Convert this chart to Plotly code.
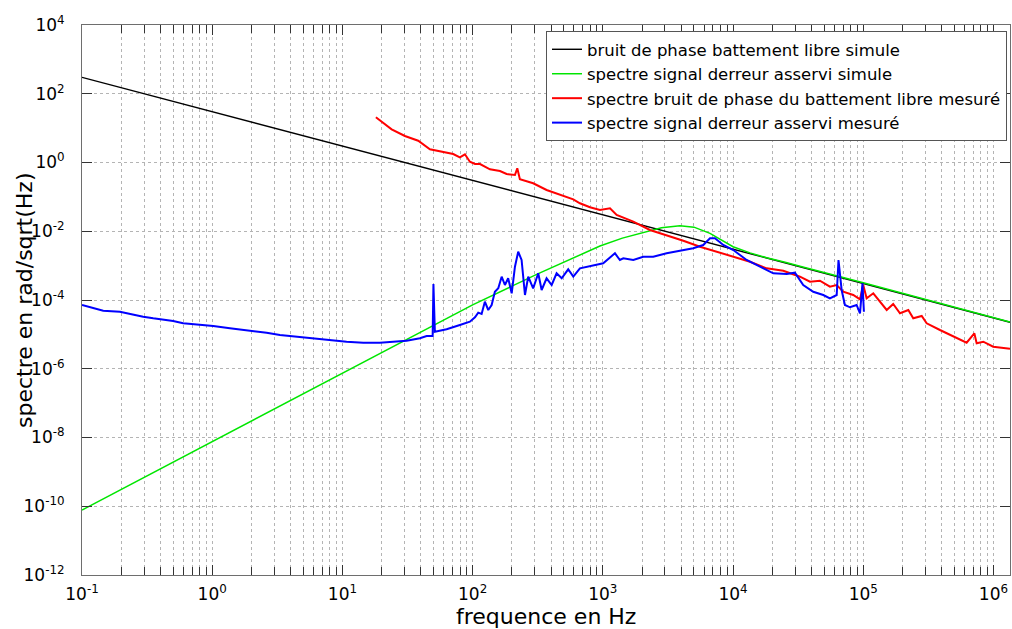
import plotly.graph_objects as go

# ---------------- data (log10 values) ----------------
# simulated free-running beat phase noise (black)
black_logf = [-1.0, 6.127]
black_logy = [2.478, -4.649]

# simulated locked error-signal spectrum (green)
green_logf = [-1.0, 0.0, 1.0, 1.5, 2.0, 2.5, 2.978, 3.15, 3.31, 3.45, 3.592, 3.7,
              3.823, 3.91, 4.0, 4.13, 4.258, 4.4, 4.514, 5.0, 5.5, 6.127]
green_logy = [-10.11, -8.12, -6.12, -5.12, -4.14, -3.24, -2.43, -2.2, -2.03, -1.90, -1.84, -1.88,
              -2.06, -2.25, -2.45, -2.63, -2.77, -2.90, -3.02, -3.50, -4.0, -4.64]

# measured free-running beat phase noise (red)
red_logf = [1.257, 1.378, 1.480, 1.582, 1.672, 1.724, 1.787, 1.851, 1.902, 1.941, 1.979, 2.018,
            2.057, 2.133, 2.210, 2.261, 2.325, 2.343, 2.363, 2.465, 2.568, 2.671, 2.773, 2.824,
            2.901, 2.978, 3.055, 3.106, 3.234, 3.362, 3.490, 3.618, 3.746, 3.874, 4.002, 4.130,
            4.258, 4.386, 4.514, 4.591, 4.667, 4.744, 4.796, 4.846, 4.923, 4.975, 5.000, 5.026,
            5.077, 5.128, 5.180, 5.230, 5.282, 5.346, 5.384, 5.449, 5.487, 5.589, 5.691, 5.794,
            5.853, 5.871, 5.922, 5.998, 6.127]
red_logy = [1.315, 0.966, 0.771, 0.634, 0.384, 0.343, 0.285, 0.247, 0.151, 0.239, 0.023, -0.044,
            -0.044, -0.198, -0.247, -0.335, -0.364, -0.169, -0.489, -0.605, -0.800, -0.945, -1.071, -1.187,
            -1.303, -1.382, -1.332, -1.527, -1.722, -1.964, -2.109, -2.275, -2.449, -2.595, -2.720, -2.886,
            -3.078, -3.148, -3.322, -3.468, -3.439, -3.613, -3.564, -3.759, -3.855, -3.980, -3.564, -3.951,
            -3.805, -4.049, -4.291, -4.116, -4.387, -4.291, -4.533, -4.465, -4.678, -4.873, -5.068, -5.242,
            -4.969, -5.260, -5.213, -5.359, -5.420]

# measured locked error-signal spectrum (blue)
blue_logf = [-1.0, -0.914, -0.837, -0.709, -0.632, -0.530, -0.453, -0.376, -0.300, -0.223, -0.146,
             -0.069, 0.008, 0.136, 0.264, 0.418, 0.520, 0.648, 0.776, 0.904, 1.032, 1.160, 1.288,
             1.390, 1.493, 1.595, 1.647, 1.693, 1.699, 1.710, 1.800, 1.902, 1.979, 2.018, 2.043,
             2.069, 2.094, 2.120, 2.146, 2.171, 2.197, 2.223, 2.248, 2.273, 2.300, 2.325, 2.350,
             2.376, 2.402, 2.427, 2.465, 2.504, 2.530, 2.568, 2.607, 2.645, 2.684, 2.734, 2.773,
             2.824, 2.876, 2.926, 3.003, 3.093, 3.131, 3.157, 3.234, 3.310, 3.387, 3.490, 3.618,
             3.694, 3.771, 3.823, 3.861, 3.925, 4.002, 4.104, 4.207, 4.309, 4.412, 4.475, 4.539,
             4.616, 4.693, 4.744, 4.796, 4.810, 4.834, 4.859, 4.898, 4.949, 4.975, 4.994, 5.005]
blue_logy = [-4.145, -4.242, -4.311, -4.340, -4.407, -4.486, -4.533, -4.562, -4.611, -4.678, -4.698,
             -4.727, -4.756, -4.823, -4.873, -4.951, -5.018, -5.068, -5.114, -5.164, -5.213, -5.242, -5.242,
             -5.213, -5.184, -5.114, -5.047, -5.047, -3.535, -4.922, -4.852, -4.727, -4.631, -4.503, -4.369,
             -4.407, -4.049, -4.291, -4.145, -3.759, -3.660, -3.322, -3.564, -3.369, -3.805, -3.031, -2.595,
             -2.836, -3.855, -3.322, -3.660, -3.223, -3.709, -3.369, -3.564, -3.223, -3.369, -3.107, -3.322,
             -3.078, -3.031, -2.982, -2.932, -2.641, -2.836, -2.787, -2.836, -2.740, -2.740, -2.641, -2.545,
             -2.496, -2.400, -2.205, -2.205, -2.400, -2.545, -2.836, -3.031, -3.223, -3.244, -3.206, -3.564,
             -3.759, -3.855, -3.951, -3.855, -2.836, -3.709, -4.145, -4.212, -4.145, -4.387, -3.514, -4.340]

legend_names = ["bruit de phase battement libre simule",
                "spectre signal derreur asservi simule",
                "spectre bruit de phase du battement libre mesuré",
                "spectre signal derreur asservi mesuré"]

x_title = "frequence en Hz"
y_title = "spectre en rad/sqrt(Hz)"

x_major_exp = [-1, 0, 1, 2, 3, 4, 5, 6]
y_major_exp = [-12, -10, -8, -6, -4, -2, 0, 2, 4]


def pw(a):
    return [10.0 ** v for v in a]


fig = go.Figure()
series = [
    (black_logf, black_logy, "#000000", 1.4),
    (green_logf, green_logy, "#00e600", 1.5),
    (red_logf, red_logy, "#ff0000", 2.0),
    (blue_logf, blue_logy, "#0000ff", 2.0),
]
for (lf, ly, col, w), name in zip(series, legend_names):
    fig.add_trace(go.Scatter(x=pw(lf), y=pw(ly), mode="lines", name=name,
                             line=dict(color=col, width=w)))

font_family = "DejaVu Sans, Arial, sans-serif"
grid_col = "#b4b4b4"
axis_col = "#6e6e6e"

minor_x = [k * 10.0 ** d for d in range(-1, 7) for k in range(2, 10) if k * 10.0 ** d <= 1.34e6]

fig.update_xaxes(
    type="log", range=[-1, 6.127], automargin=False,
    tickvals=[10.0 ** e for e in x_major_exp],
    ticktext=["10<sup>%d</sup>" % e for e in x_major_exp],
    ticks="inside", ticklen=10, tickcolor="#333333",
    showline=True, linecolor=axis_col, linewidth=1, mirror="allticks",
    showgrid=True, gridcolor=grid_col, griddash="dot", gridwidth=1,
    minor=dict(tickvals=minor_x, ticks="inside", ticklen=8, tickcolor="#333333",
               showgrid=True, gridcolor=grid_col, griddash="dot", gridwidth=1),
    zeroline=False, ticklabelstandoff=4,
    tickfont=dict(family=font_family, size=17, color="#000000"),
)
fig.update_yaxes(
    type="log", range=[-12, 4], automargin=False,
    tickvals=[10.0 ** e for e in y_major_exp],
    ticktext=["10<sup>%d</sup>" % e for e in y_major_exp],
    ticks="inside", ticklen=10, tickcolor="#333333",
    showline=True, linecolor=axis_col, linewidth=1, mirror="allticks",
    showgrid=True, gridcolor=grid_col, griddash="dot", gridwidth=1,
    zeroline=False, ticklabelstandoff=13,
    tickfont=dict(family=font_family, size=17, color="#000000"),
)

fig.add_annotation(text=x_title, xref="paper", yref="paper", x=0.5, y=-0.076,
                   xanchor="center", yanchor="middle", showarrow=False,
                   font=dict(family=font_family, size=22, color="#000000"))
fig.add_annotation(text=y_title, xref="paper", yref="paper", x=-0.0625, y=0.5,
                   xanchor="center", yanchor="middle", showarrow=False, textangle=-90,
                   font=dict(family=font_family, size=22, color="#000000"))

fig.update_layout(
    width=1012, height=629,
    margin=dict(l=82, r=2, t=25, b=54),
    paper_bgcolor="white", plot_bgcolor="white",
    showlegend=True,
    legend=dict(x=0.5, y=0.989, xanchor="left", yanchor="top",
                bgcolor="white", bordercolor="#555555", borderwidth=1,
                font=dict(family=font_family, size=16.5, color="#000000"),
                tracegroupgap=0, itemwidth=30),
)

fig.write_html("out.html", config={"displayModeBar": False},
               post_script="document.body.style.margin='0px';document.body.style.overflow='hidden';")
